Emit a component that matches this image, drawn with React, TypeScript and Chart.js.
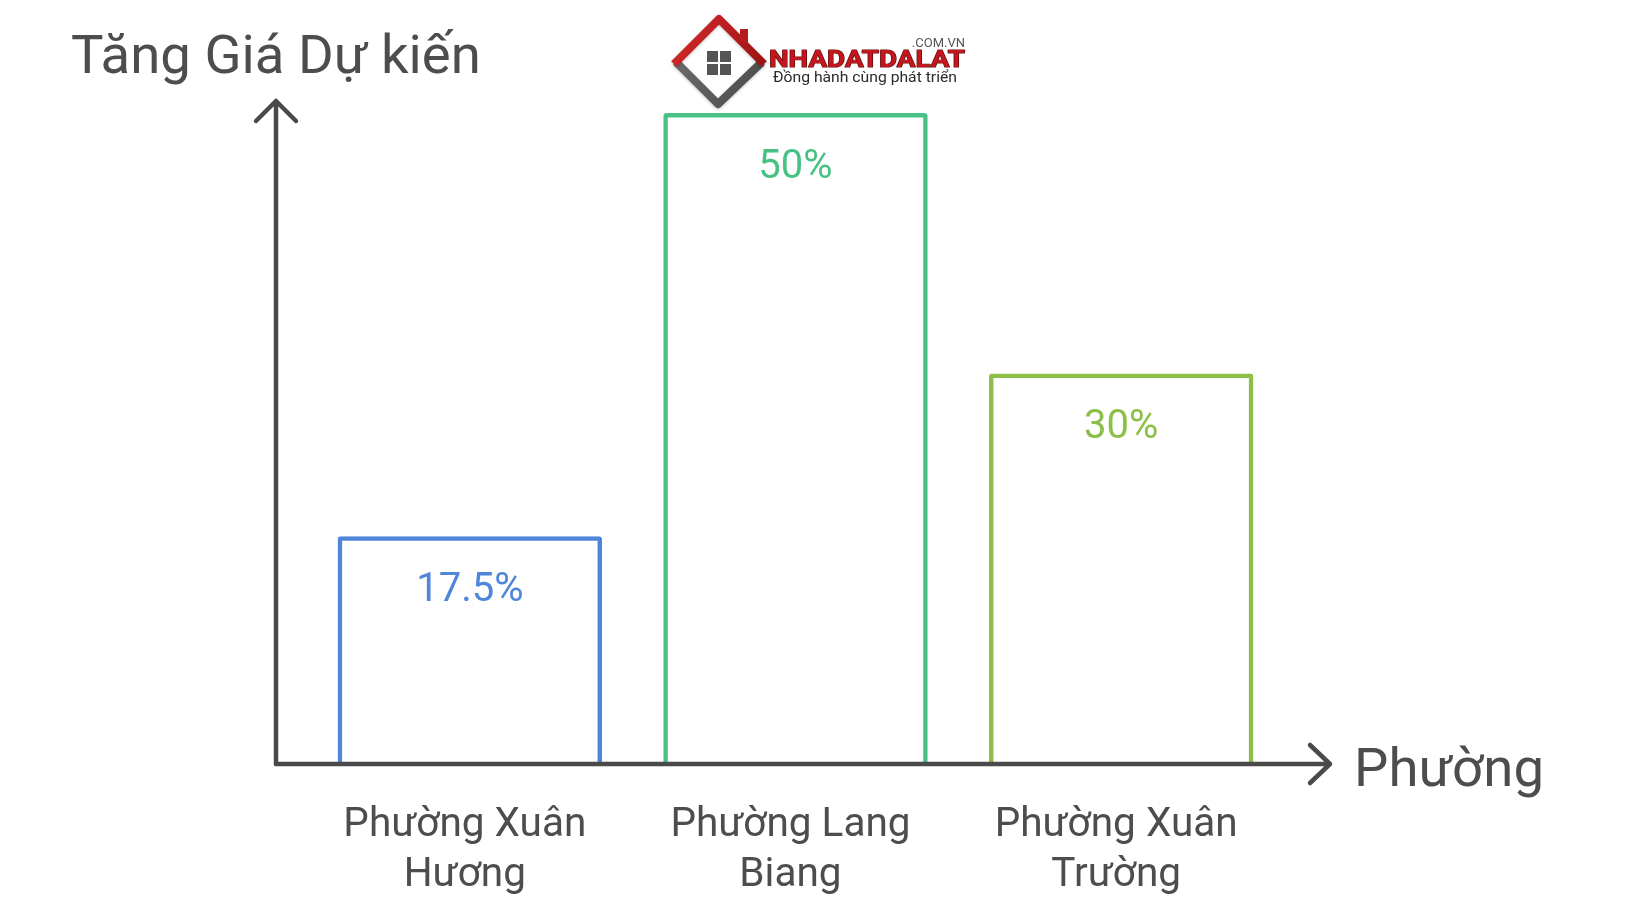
import React, { useEffect, useRef } from "react";
import { Chart, registerables } from "chart.js";

Chart.register(...registerables);

// ---- data ----
const categories: string[][] = [
  ["Phường Xuân", "Hương"],
  ["Phường Lang", "Biang"],
  ["Phường Xuân", "Trường"],
];
const values: number[] = [17.5, 50, 30];
const valueLabels: string[] = ["17.5%", "50%", "30%"];
const barColors: string[] = ["#4f86da", "#48c184", "#8cbf47"];
const yAxisTitle = "Tăng Giá Dự kiến";
const xAxisTitle = "Phường";
const yRange: number[] = [0, 50];

const AXIS = "#4a4a4a";
const TEXT = "#4d4d4d";
const FONT = "Roboto, 'Noto Sans', sans-serif";

function drawLogo(ctx: CanvasRenderingContext2D) {
  ctx.save();
  const top = { x: 719, y: 19 };
  const right = { x: 762, y: 62 };
  const bottom = { x: 718, y: 104 };
  const left = { x: 676, y: 62 };
  ctx.lineJoin = "round";
  ctx.lineCap = "butt";
  ctx.lineWidth = 8;
  ctx.shadowColor = "rgba(0,0,0,0.25)";
  ctx.shadowBlur = 3;
  ctx.shadowOffsetY = 1;
  const gg = ctx.createLinearGradient(676, 62, 762, 104);
  gg.addColorStop(0, "#6a6a6a");
  gg.addColorStop(1, "#4a4a4a");
  ctx.strokeStyle = gg;
  ctx.beginPath();
  ctx.moveTo(left.x, left.y);
  ctx.lineTo(bottom.x, bottom.y);
  ctx.lineTo(right.x, right.y);
  ctx.stroke();
  const grad = ctx.createLinearGradient(676, 20, 762, 62);
  grad.addColorStop(0, "#d42a2a");
  grad.addColorStop(1, "#9e1414");
  ctx.strokeStyle = grad;
  ctx.beginPath();
  ctx.moveTo(left.x - 2, left.y + 2);
  ctx.lineTo(top.x, top.y);
  ctx.lineTo(right.x + 2, right.y + 2);
  ctx.stroke();
  ctx.shadowColor = "rgba(0,0,0,0)";
  ctx.fillStyle = "#b71c1c";
  ctx.fillRect(740, 29, 8, 14);
  ctx.fillStyle = "#555555";
  const wx = 707, wy = 51, s = 11, g = 2;
  ctx.fillRect(wx, wy, s, s);
  ctx.fillRect(wx + s + g, wy, s, s);
  ctx.fillRect(wx, wy + s + g, s, s);
  ctx.fillRect(wx + s + g, wy + s + g, s, s);

  ctx.textBaseline = "alphabetic";
  ctx.textAlign = "left";
  ctx.fillStyle = "#555555";
  ctx.font = `13px ${FONT}`;
  const com = ".COM.VN";
  const cw = ctx.measureText(com).width;
  ctx.fillText(com, 965 - cw, 47);

  ctx.font = `bold 24px ${FONT}`;
  const brand = "NHADATDALAT";
  const bw = ctx.measureText(brand).width;
  ctx.save();
  ctx.translate(769, 67);
  ctx.scale(196 / bw, 1);
  ctx.lineWidth = 1.2;
  ctx.strokeStyle = "#5a0a0a";
  ctx.strokeText(brand, 0, 0);
  ctx.fillStyle = "#c4161c";
  ctx.fillText(brand, 0, 0);
  ctx.restore();

  ctx.font = `15px ${FONT}`;
  const slogan = "Đồng hành cùng phát triển";
  const sw = ctx.measureText(slogan).width;
  ctx.save();
  ctx.translate(773, 82);
  ctx.scale(184 / sw, 1);
  ctx.fillStyle = "#2b2b2b";
  ctx.fillText(slogan, 0, 0);
  ctx.restore();
  ctx.restore();
}

const overlayPlugin = {
  id: "overlay",
  afterDatasetsDraw(chart: any) {
    const { ctx, chartArea } = chart;
    const ax = chartArea.left - 31;
    const base = chartArea.bottom;
    const yTip = chartArea.top - 12;
    const xTip = chartArea.right + 46;

    ctx.save();
    const meta = chart.getDatasetMeta(0);
    ctx.textAlign = "center";
    ctx.textBaseline = "alphabetic";
    ctx.font = `40px ${FONT}`;
    meta.data.forEach((el: any, i: number) => {
      ctx.fillStyle = barColors[i];
      ctx.fillText(valueLabels[i], el.x, el.y + 65);
    });

    ctx.strokeStyle = AXIS;
    ctx.lineWidth = 4.5;
    ctx.lineCap = "round";
    ctx.lineJoin = "round";
    ctx.beginPath();
    ctx.moveTo(ax, base);
    ctx.lineTo(ax, yTip);
    ctx.moveTo(ax - 20, yTip + 20);
    ctx.lineTo(ax, yTip);
    ctx.lineTo(ax + 20, yTip + 20);
    ctx.stroke();

    ctx.beginPath();
    ctx.moveTo(ax, base);
    ctx.lineTo(xTip, base);
    ctx.moveTo(xTip - 20, base - 19);
    ctx.lineTo(xTip, base);
    ctx.lineTo(xTip - 20, base + 19);
    ctx.stroke();

    ctx.fillStyle = TEXT;
    ctx.textAlign = "left";
    ctx.font = `54.5px ${FONT}`;
    ctx.fillText(yAxisTitle, 71, 73);
    ctx.font = `54.5px ${FONT}`;
    ctx.fillText(xAxisTitle, xTip + 24, base + 22);

    drawLogo(ctx);
    ctx.restore();
  },
};

export default function App() {
  const ref = useRef<HTMLCanvasElement | null>(null);

  useEffect(() => {
    if (!ref.current) return;
    const chart = new Chart(ref.current, {
      type: "bar",
      data: {
        labels: categories,
        datasets: [
          {
            data: values,
            backgroundColor: "rgba(255,255,255,0)",
            borderColor: barColors,
            borderWidth: 4.5,
            borderRadius: 3,
            borderSkipped: "start",
            barPercentage: 0.812,
            categoryPercentage: 1,
          },
        ],
      },
      options: {
        animation: false,
        responsive: false,
        maintainAspectRatio: false,
        layout: { padding: { left: 307, right: 356, top: 113, bottom: 0 } },
        plugins: {
          legend: { display: false },
          tooltip: { enabled: false },
          title: { display: false },
        },
        scales: {
          x: {
            type: "category",
            offset: true,
            grid: { display: false, drawTicks: false },
            border: { display: false },
            ticks: {
              color: TEXT,
              padding: 37,
              maxRotation: 0,
              autoSkip: false,
              font: { family: FONT, size: 40.5, lineHeight: 50 / 40.5 },
              // labels are centred with a trailing word space, as in the source
              callback: (_v: any, i: number) => categories[i].map((l) => l + " "),
            },
            afterFit: (scale: any) => {
              scale.height = 160;
            },
          },
          y: {
            display: false,
            min: yRange[0],
            max: yRange[1],
          },
        },
      },
      plugins: [overlayPlugin],
    });
    return () => chart.destroy();
  }, []);

  return (
    <div
      style={{
        position: "absolute",
        left: 0,
        top: 0,
        width: 1640,
        height: 924,
        background: "#ffffff",
      }}
    >
      <canvas ref={ref} width={1640} height={924} style={{ display: "block" }} />
    </div>
  );
}
